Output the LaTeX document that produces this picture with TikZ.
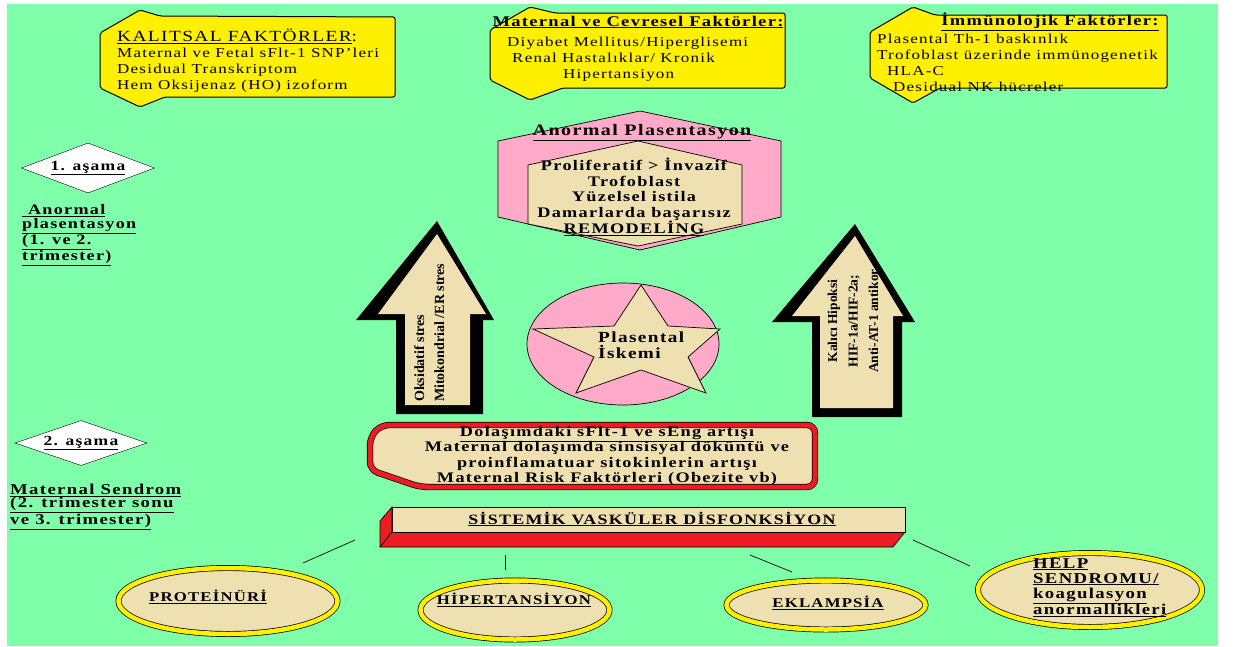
\documentclass[tikz,border=0pt]{standalone}
\usepackage{fontspec}
\setmainfont{Liberation Serif}[FakeStretch=1.25,LetterSpace=9]
\newfontfamily\narrowrm{Liberation Serif}
\usetikzlibrary{shapes.geometric}

\definecolor{bggreen}{RGB}{128,255,170}
\definecolor{boxyellow}{RGB}{255,240,0}
\definecolor{wheat}{RGB}{238,224,176}
\definecolor{rosepink}{RGB}{255,170,200}
\definecolor{alarmred}{RGB}{237,28,36}

\begin{document}
\begin{tikzpicture}[x=1pt,y=-1pt,
  factor/.style={draw,fill=boxyellow,line width=1pt,rounded corners=2pt},
  facttxt/.style={inner sep=0pt,align=left,font=\fontsize{13.6}{15.8}\selectfont},
  facthead/.style={inner sep=0pt,font=\bfseries\fontsize{14.8}{16}\selectfont},
  stage/.style={diamond,aspect=2.7,draw,fill=white,inner sep=0pt,minimum width=133pt,minimum height=50pt,font=\bfseries\fontsize{14}{15}\selectfont},
  side/.style={inner sep=0pt,align=left,font=\bfseries\fontsize{14.5}{14}\selectfont},
  boldtxt/.style={inner sep=0pt,align=center,font=\bfseries\fontsize{14.6}{15.4}\selectfont},
  arrtxt/.style={inner sep=0pt,font=\narrowrm\bfseries\fontsize{14}{20}\selectfont},
  outcome/.style={ellipse,draw=black,double=boxyellow,double distance=4.5pt,line width=.7pt,fill=wheat,inner sep=0pt},
  ln/.style={line width=.7pt}
]
\useasboundingbox (0,0) rectangle (1234,646);
\fill[bggreen] (7,4) rectangle (1218,646);

% factor boxes on top
\draw[factor] (100,33) -- (140,10) -- (160,16) -- (395,17) -- (395,97) -- (165,97) -- (140,107) -- (100,88) -- cycle;
\draw[factor] (490,30) -- (530,7) -- (555,13) -- (785,13) -- (785,88) -- (563,88) -- (530,100) -- (490,80) -- cycle;
\draw[factor] (870,32) -- (913,7) -- (935,15) -- (1167,15) -- (1167,88) -- (940,88) -- (913,103) -- (870,78) -- cycle;

\node[inner sep=0pt,anchor=west,font=\fontsize{15.5}{16}\selectfont] (kalh) at (117,36) {\underline{KALITSAL FAKTÖRLER}:};
\node[facttxt,anchor=north west] (kal) at (117,48) {Maternal ve Fetal sFlt-1 SNP'leri\\Desidual Transkriptom\\Hem Oksijenaz (HO) izoform};
\node[facthead] (cevh) at (638,22) {\underline{Maternal ve Cevresel Faktörler:}};
\node[facttxt,anchor=north west] (cev) at (507,37) {Diyabet Mellitus/Hiperglisemi\\\hspace*{5pt}Renal Hastalıklar/ Kronik\\\hspace*{56pt}Hipertansiyon};
\node[facthead] (immh) at (1050,22) {\underline{İmmünolojik Faktörler:}};
\node[facttxt,anchor=north west] (imm) at (877,34) {Plasental Th-1 baskınlık\\Trofoblast üzerinde immünogenetik\\\hspace*{10pt}HLA-C\\\hspace*{16pt}Desidual NK hücreler};

% stages
\node[stage] (as1) at (88,168) {\underline{1. aşama}};
\node[side,anchor=north west] (ap) at (22,204) {\underline{\ Anormal}\\\underline{plasentasyon}\\\underline{(1. ve 2.}\\\underline{trimester)}};
\node[stage,minimum width=132pt,minimum height=45pt] (as2) at (81,443) {\underline{2. aşama}};
\node[side,anchor=north west,font=\bfseries\fontsize{15}{13}\selectfont] (ms) at (10,484) {\underline{Maternal Sendrom}\\\underline{(2. trimester sonu}\\\underline{ve 3. trimester)}};

% anormal plasentasyon
\filldraw[fill=rosepink,line width=.7pt] (640,111) -- (781,141) -- (781,217) -- (640,250) -- (498,217) -- (498,141) -- cycle;
\filldraw[fill=wheat,line width=.7pt] (638,141) -- (742,165) -- (742,224) -- (638,246) -- (528,224) -- (528,165) -- cycle;
\node[facthead,font=\bfseries\fontsize{16}{16}\selectfont] (aph) at (642,133) {\underline{Anormal Plasentasyon}};
\node[boldtxt] (apx) at (634,197) {Proliferatif > İnvazif\\Trofoblast\\Yüzelsel istila\\Damarlarda başarısız\\\underline{REMODELİNG}};

% arrows
\fill (437,221) -- (494,320) -- (483,320) -- (483,414) -- (396,414) -- (396,320) -- (356,320) -- cycle;
\fill[wheat] (437,234) -- (486,314) -- (470,314) -- (470,405) -- (405,405) -- (405,314) -- (378,314) -- cycle;
\node[arrtxt,rotate=90,anchor=north west,align=left] (oks) at (414,402) {Oksidatif stres\\Mitokondrial /ER stres};
\fill (855,224) -- (915,322) -- (902,322) -- (902,417) -- (812,417) -- (812,322) -- (772,322) -- cycle;
\fill[wheat] (855,236) -- (903,316) -- (893,316) -- (893,408) -- (820,408) -- (820,316) -- (792,316) -- cycle;
\node[arrtxt,rotate=90,align=center,font=\narrowrm\bfseries\fontsize{13.5}{20.5}\selectfont] (hip) at (853,321) {Kalıcı Hipoksi\\HIF-1a/HIF-2a;\\Anti-AT-1 antikor};

% iskemi
\filldraw[fill=rosepink,line width=.7pt] (623,344) ellipse [x radius=96pt,y radius=61pt];
\filldraw[fill=wheat,line width=.7pt] (641,285) -- (668,326) -- (720,329) -- (688,357) -- (706,393) -- (641,370) -- (576,393) -- (594,357) -- (533,329) -- (614,326) -- cycle;
\node[boldtxt,align=left,anchor=west,font=\bfseries\fontsize{15.4}{15.5}\selectfont] (isk) at (598,345) {Plasental\\İskemi};

% maternal sendrom
\draw[draw=black,double=alarmred,double distance=5pt,line width=.7pt,fill=wheat,rounded corners=8pt] (370,437) -- (381,425) -- (815,425) -- (815,487) -- (420,487) -- (370,470) -- cycle;
\node[boldtxt] (dol) at (607,456) {\underline{Dolaşımdaki sFlt-1 ve sEng artışı}\\Maternal dolaşımda sinsisyal döküntü ve\\proinflamatuar sitokinlerin artışı\\Maternal Risk Faktörleri (Obezite vb)};

\filldraw[fill=alarmred,line width=.7pt] (392,507) -- (380,521) -- (380,547) -- (893,547) -- (905,532) -- (392,532) -- cycle;
\draw[ln] (392,532) -- (380,547);
\filldraw[fill=wheat,line width=.7pt] (392,507) rectangle (905,532);
\node[boldtxt,font=\bfseries\fontsize{14.3}{15}\selectfont] (svd) at (652,519) {\underline{SİSTEMİK VASKÜLER DİSFONKSİYON}};

% outcomes
\node[outcome,minimum width=219pt,minimum height=66pt] (pro) at (228,601) {};
\node[outcome,minimum width=189pt,minimum height=59pt] (hpt) at (515,610) {};
\node[outcome,minimum width=199pt,minimum height=49pt] (ekl) at (826,605) {};
\node[outcome,minimum width=224pt,minimum height=74pt] (hlp) at (1090,590) {};
\node[boldtxt,font=\bfseries\fontsize{13.4}{15}\selectfont] (prot) at (208,597) {\underline{PROTEİNÜRİ}};
\node[boldtxt,font=\bfseries\fontsize{13.4}{15}\selectfont] (hipt) at (514,600) {\underline{HİPERTANSİYON}};
\node[boldtxt,font=\bfseries\fontsize{13.4}{15}\selectfont] (eklt) at (828,603) {\underline{EKLAMPSİA}};
\node[boldtxt,align=left,anchor=north west,font=\bfseries\fontsize{15}{15}\selectfont] (hlpt) at (1033,558) {\underline{HELP}\\\underline{SENDROMU/}\\\underline{koagulasyon}\\\underline{anormallikleri}};

\coordinate (l1a) at (355,540); \coordinate (l1b) at (303,563);
\coordinate (l2a) at (505,555); \coordinate (l2b) at (505,570);
\coordinate (l3a) at (750,555); \coordinate (l3b) at (792,572);
\coordinate (l4a) at (913,540); \coordinate (l4b) at (970,566);
\draw[ln] (l1a) -- (l1b);
\draw[ln] (l2a) -- (l2b);
\draw[ln] (l3a) -- (l3b);
\draw[ln] (l4a) -- (l4b);
\end{tikzpicture}
\end{document}
